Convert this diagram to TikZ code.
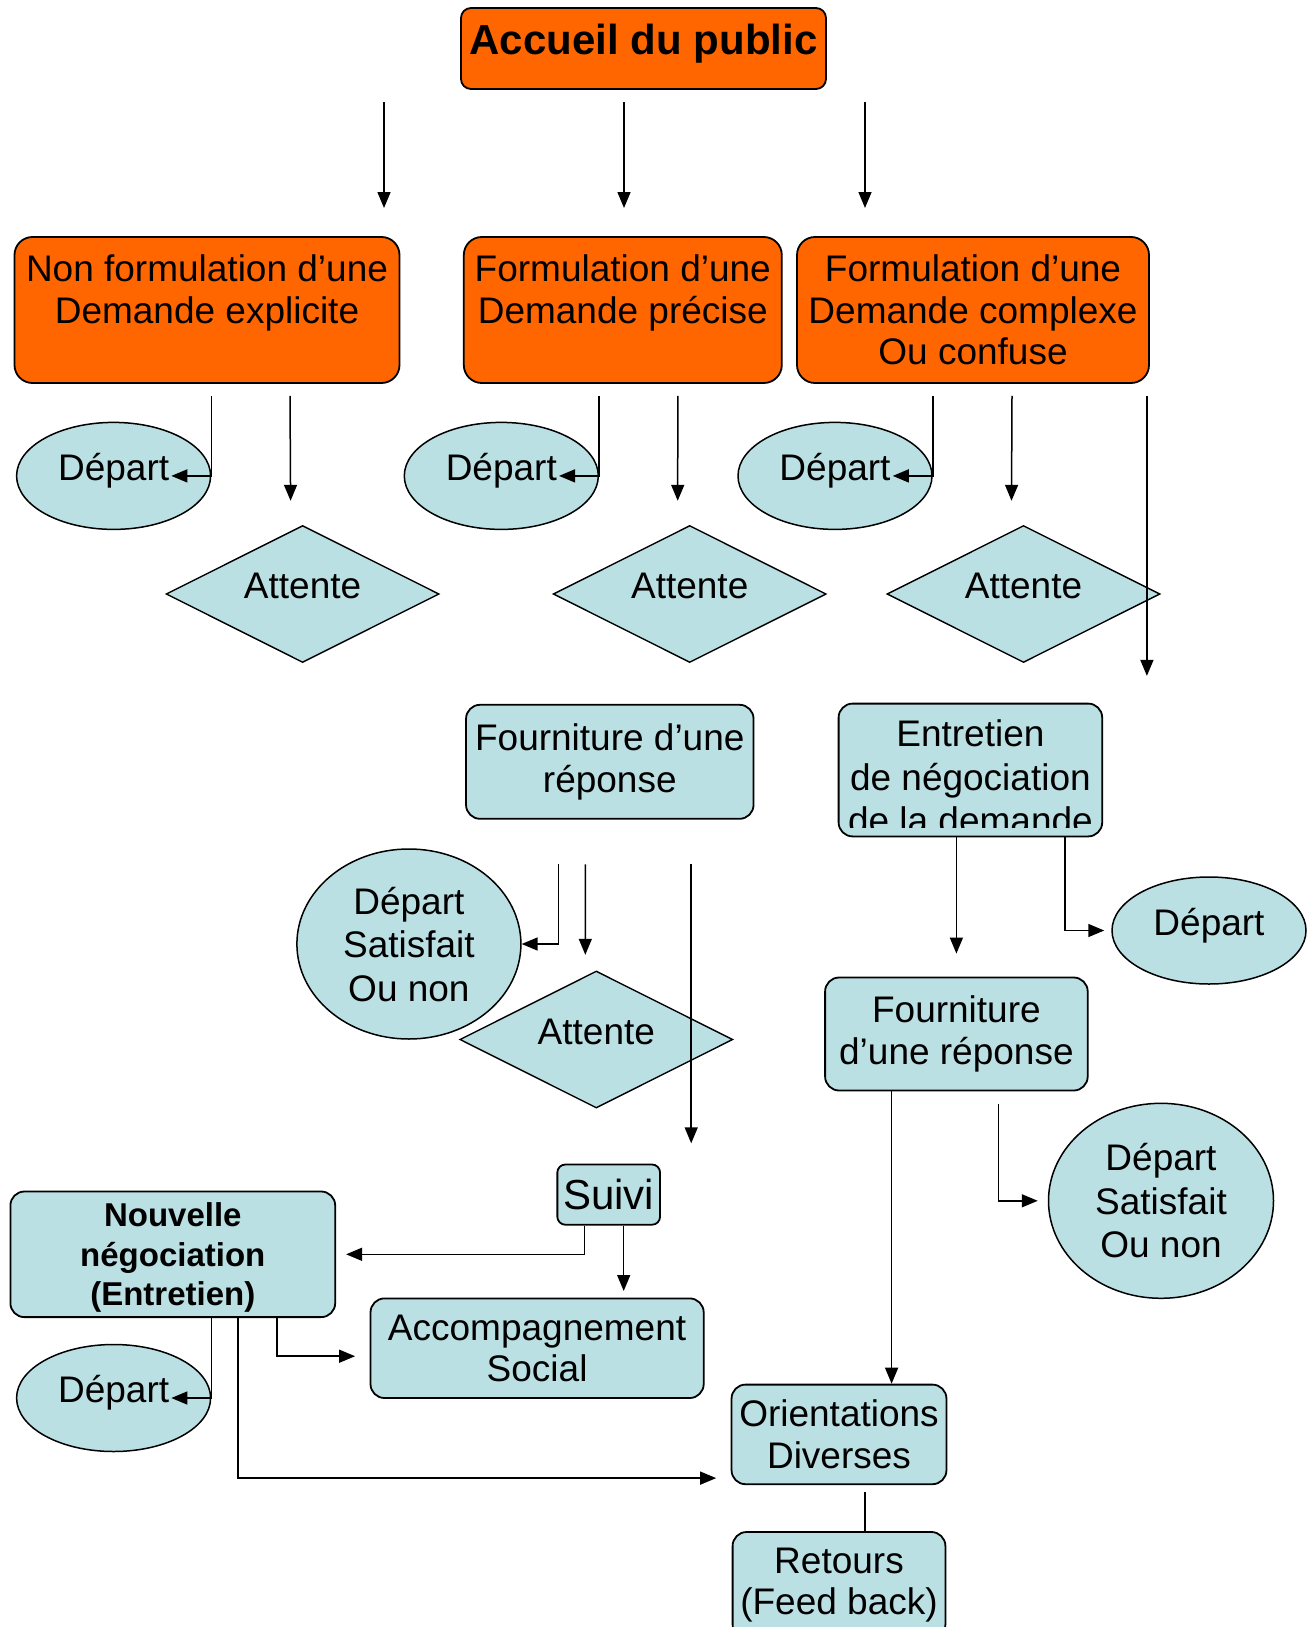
\documentclass[tikz,border=0pt]{standalone}
\usepackage{fontspec}
\setmainfont{Liberation Sans}
\usepackage{tikz}
\usetikzlibrary{
  arrows.meta,
  shapes.geometric,
  positioning
}
\usepackage{xcolor}
\definecolor{corange}{RGB}{255,102,0}
\definecolor{lblue}{RGB}{187,224,227}
\newcommand{\fsnorm}{\fontsize{37pt}{41.5pt}\selectfont}
\newcommand{\fswide}{\fontsize{37pt}{43.5pt}\selectfont}
\newcommand{\fstitle}{\fontsize{42pt}{48pt}\selectfont\bfseries}
\newcommand{\fsneg}{\fontsize{33pt}{39.5pt}\selectfont\bfseries}
\newcommand{\fssuivi}{\fontsize{42pt}{48pt}\selectfont}
\tikzset{
  demande/.style={
    rectangle, rounded corners=18pt,
    fill=corange, draw=black, line width=1.8pt,
    inner sep=0pt, font=\fsnorm, align=center
  },
  etape/.style={
    demande, fill=lblue, rounded corners=14pt
  },
  depart/.style={
    ellipse, fill=lblue, draw=black, line width=1.5pt,
    inner sep=0pt, font=\fsnorm, align=center
  },
  depart1/.style={
    depart, text depth=18pt,
    minimum width=194pt, minimum height=107pt
  },
  attente/.style={
    diamond, aspect=2, fill=lblue, draw=black, line width=1.4pt,
    inner sep=0pt, font=\fsnorm, text depth=16pt,
    minimum width=273pt, minimum height=137pt
  },
  arr/.style={-{Triangle[length=16pt,width=13pt]}, line width=1.5pt}
}

\begin{document}
\begin{tikzpicture}[x=1pt, y=-1pt]
    \useasboundingbox (0,0) rectangle (1316,1627);

    %% ---- Accueil --------------------------------------------------
    \node[demande, font=\fstitle, rounded corners=10pt, text depth=19pt,
          minimum width=365pt, minimum height=81pt]
      (accueil) at (643.5,48.5) {Accueil du public};

    \foreach \x [count=\i] in {384,624,865}{
      \coordinate (haut\i) at (\x,102);
      \coordinate (bas\i) at (\x,208);
      \draw[arr] (haut\i) -- (bas\i);
    }

    %% ---- Types de demande -----------------------------------------
    \node[demande, minimum width=385pt, minimum height=146pt]
      (nonf) at (207,310) {Non formulation d’une\\Demande explicite\\\mbox{}};
    \node[demande, minimum width=318pt, minimum height=146pt]
      (fprec) at (622.8,310) {Formulation d’une\\Demande précise\\\mbox{}};
    \node[demande, minimum width=352pt, minimum height=146pt]
      (fcomp) at (973,310) {Formulation d’une\\Demande complexe\\Ou confuse};

    \node[depart1] (dep1) at (113.6,475.9) {Départ};
    \node[depart1] (dep2) at (501.3,475.9) {Départ};
    \node[depart1] (dep3) at (835,475.9)   {Départ};

    \node[attente] (att1) at (302.6,594)  {Attente};
    \node[attente] (att2) at (689.7,594)  {Attente};
    \node[attente] (att3) at (1023.5,594) {Attente};

    %% ---- Demande precise ------------------------------------------
    \node[etape, minimum width=287.5pt, minimum height=114pt]
      (four1) at (609.8,761.8) {Fourniture d’une\\réponse};
    \node[depart, font=\fswide, text depth=-7pt,
          minimum width=224pt, minimum height=190pt]
      (dsat1) at (408.9,944) {Départ\\Satisfait\\Ou non};
    \node[attente] (att4) at (596.3,1039.5) {Attente};

    %% ---- Demande complexe -----------------------------------------
    \node[etape, minimum width=263.6pt, minimum height=132.8pt,
          path picture={
            \clip ([yshift=9pt]path picture bounding box.south west)
              rectangle (path picture bounding box.north east);
            \node[font=\fswide, align=center, draw=none, fill=none, inner sep=0pt]
              at ([yshift=-7pt]path picture bounding box.center)
              {Entretien\\de négociation\\de la demande};
          }] (ent) at (970.4,770) {};
    \node[depart1] (dep5) at (1209,930.5) {Départ};
    \node[etape, minimum width=262.6pt, minimum height=113pt]
      (four2) at (956.4,1034) {Fourniture\\d’une réponse};
    \node[depart, font=\fswide, text depth=-4pt,
          minimum width=225pt, minimum height=195pt]
      (dsat2) at (1161,1200.8) {Départ\\Satisfait\\Ou non};

    %% ---- Suivi ----------------------------------------------------
    \node[etape, font=\fssuivi, rounded corners=8pt,
          minimum width=102.7pt, minimum height=60.2pt]
      (suivi) at (608.7,1194.6) {Suivi};
    \node[etape, font=\fsneg, text depth=-6pt,
          minimum width=324.8pt, minimum height=125.6pt]
      (nouv) at (172.8,1254.3) {Nouvelle\\négociation\\(Entretien)};
    \node[depart1] (dep4) at (113.6,1398) {Départ};
    \node[etape, minimum width=333.2pt, minimum height=99.6pt]
      (accomp) at (537.1,1348.2) {Accompagnement\\Social};
    \node[etape, minimum width=214.9pt, minimum height=99.6pt]
      (orient) at (839,1434.4) {Orientations\\Diverses};
    \node[etape, minimum width=212.8pt, minimum height=106.4pt]
      (retour) at (839,1585.2) {Retours\\(Feed back)};

    %% ---- Liaisons -------------------------------------------------
    \draw[arr] ([yshift=-12pt]nonf.south -| dep1.east) -- (dep1.east) -- ++(-40,0);
    \draw[arr] ([xshift=83pt,yshift=-12pt]nonf.south)
      -- ([xshift=-12pt,yshift=24pt]att1.north);
    \draw[arr] ([yshift=-12pt]fprec.south -| dep2.east) -- (dep2.east) -- ++(-40,0);
    \draw[arr] ([xshift=55pt,yshift=-12pt]fprec.south)
      -- ([xshift=-12pt,yshift=24pt]att2.north);
    \draw[arr] ([yshift=-12pt]fcomp.south -| dep3.east) -- (dep3.east) -- ++(-40,0);
    \draw[arr] ([xshift=39pt,yshift=-12pt]fcomp.south)
      -- ([xshift=-12pt,yshift=24pt]att3.north);
    \draw[arr] ([xshift=-3pt,yshift=-12pt]fcomp.south east) -- ++(0,280);

    \draw[arr] ([xshift=-51.4pt,yshift=-44.6pt]four1.south) |- (dsat1.east);
    \draw[arr] ([xshift=-24.4pt,yshift=-44.6pt]four1.south)
      -- ([xshift=-11pt,yshift=15.5pt]att4.north);
    \draw[arr] ([xshift=81.4pt,yshift=-44.6pt]four1.south) -- ++(0,279);

    \draw[arr] (ent.south -| four2.north) -- ([yshift=23pt]four2.north);
    \draw[arr] ([xshift=94.5pt]ent.south) |- ([xshift=-7pt]dep5.west);
    \draw[arr] ([xshift=-64.8pt]four2.south) -- ([xshift=-64.8pt]four2.south |- orient.north);
    \draw[arr] ([xshift=42pt,yshift=-12.5pt]four2.south) |- ([xshift=-10pt]dsat2.west);

    \draw[arr] ([xshift=-24.4pt]suivi.south) |- ([xshift=10pt]nouv.east);
    \draw[arr] ([xshift=15pt]suivi.south) -- ++(0,65.4);

    \draw[arr] (nouv.south -| dep4.east) -- (dep4.east) -- ++(-40,0);
    \draw[arr] ([xshift=65pt]nouv.south)
      |- ([xshift=-14.5pt,yshift=7pt]orient.south west);
    \draw[arr] ([xshift=104.3pt]nouv.south)
      |- ([xshift=-14.5pt,yshift=-8pt]accomp.west);

    \draw[line width=1.5pt] ([xshift=26pt,yshift=-7pt]orient.south)
      -- ([xshift=26pt]retour.north);

  \end{tikzpicture}
\end{document}
